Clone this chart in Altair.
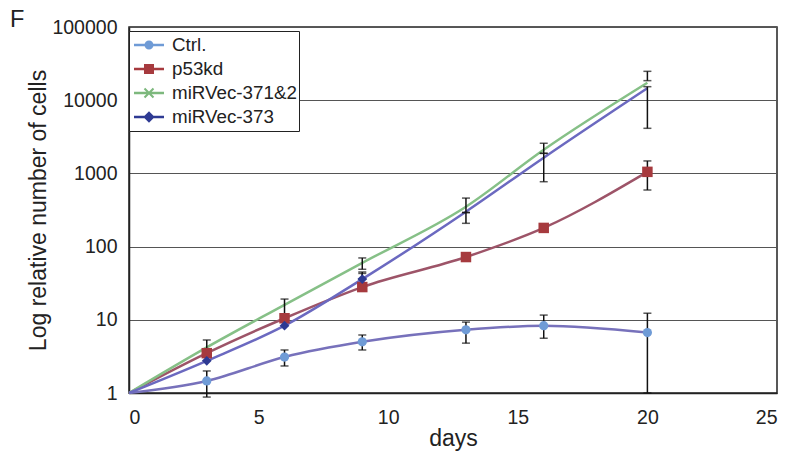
import altair as alt
import pandas as pd

# ---------------- data ----------------
panel_label = ["F"]
days = [0, 3, 6, 9, 13, 16, 20]
series_names = ["Ctrl.", "p53kd", "miRVec-371&2", "miRVec-373"]
ctrl = [1, 1.46, 3.1, 5.0, 7.3, 8.3, 6.7]
p53kd = [1, 3.5, 10.5, 28, 72, 180, 1050]
mir371 = [1, 4.2, 16, 60, 350, 2100, 17300]
mir373 = [1, 2.75, 8.3, 36, 300, 1640, 14600]

# days on which a marker is visible in the reference
ctrl_marker_days = [3, 6, 9, 13, 16, 20]
p53kd_marker_days = [3, 6, 9, 13, 16, 20]
mir371_marker_days = []
mir373_marker_days = [3, 6, 9]

# error bars
err_series = (["Ctrl."] * 6 + ["p53kd"] * 4 + ["miRVec-371&2"] * 4 + ["miRVec-373"] * 4)
err_day = [3, 6, 9, 13, 16, 20,
           3, 6, 9, 20,
           9, 13, 16, 20,
           9, 13, 16, 20]
err_lo = [0.88, 2.34, 3.87, 4.8, 5.6, 1.0,
          3.5, 10.5, 28, 593,
          49, 292, 1880, 18500,
          36, 208, 770, 4130]
err_hi = [2.0, 3.87, 6.2, 9.3, 11.6, 12.3,
          5.3, 19.2, 45, 1480,
          70, 460, 2580, 24800,
          43, 292, 1880, 15300]

x_ticks = [0, 5, 10, 15, 20, 25]
y_ticks = [1, 10, 100, 1000, 10000, 100000]

# ---------------- styles ----------------
line_colors = {"Ctrl.": "#7771bb", "p53kd": "#9d5468", "miRVec-371&2": "#86c087", "miRVec-373": "#6b69c0"}
marker_colors = {"Ctrl.": "#6f9bd6", "p53kd": "#a63a3e", "miRVec-371&2": "#7db87d", "miRVec-373": "#2e3a93"}
marker_shapes = {"Ctrl.": "circle", "p53kd": "square", "miRVec-371&2": "cross", "miRVec-373": "diamond"}
marker_sizes = {"Ctrl.": 85, "p53kd": 110, "miRVec-371&2": 60, "miRVec-373": 95}

# legend glyphs: a short line with the marker on it (unit = 18 px)
LINE = "M-0.833,-0.067H0.833V0.067H-0.833Z"
legend_paths = {
    "Ctrl.": LINE + "M-0.25,0A0.25,0.25 0 1,1 0.25,0A0.25,0.25 0 1,1 -0.25,0Z",
    "p53kd": LINE + "M-0.278,-0.278H0.278V0.278H-0.278Z",
    "miRVec-371&2": LINE + "M-0.21,-0.29L0.29,0.21L0.21,0.29L-0.29,-0.21Z"
                    + "M-0.29,0.21L0.21,-0.29L0.29,-0.21L-0.21,0.29Z",
    "miRVec-373": LINE + "M0,-0.317L0.317,0L0,0.317L-0.317,0Z",
}

FONT = "Liberation Sans"

values = {"Ctrl.": ctrl, "p53kd": p53kd, "miRVec-371&2": mir371, "miRVec-373": mir373}
marker_days = {"Ctrl.": ctrl_marker_days, "p53kd": p53kd_marker_days,
               "miRVec-371&2": mir371_marker_days, "miRVec-373": mir373_marker_days}

rows = []
for s in series_names:
    for d, v in zip(days, values[s]):
        rows.append({"series": s, "day": d, "value": v,
                     "lc": line_colors[s], "mc": marker_colors[s],
                     "shape": marker_shapes[s], "ms": marker_sizes[s],
                     "marker": d in marker_days[s]})
df = pd.DataFrame(rows)
pts = df[df["marker"]].copy()
err = pd.DataFrame({"series": err_series, "day": err_day, "lo": err_lo, "hi": err_hi})

x_enc = alt.X("day:Q", scale=alt.Scale(domain=[0, 25], nice=False),
              axis=alt.Axis(values=x_ticks, title="days", ticks=False, grid=False,
                            labelFontSize=19.5, labelFont=FONT, labelColor="#222",
                            labelPadding=15, titleFont=FONT, titleFontSize=23,
                            titleFontWeight="normal", titleColor="#222",
                            titleY=52, titleBaseline="alphabetic",
                            domainColor="#222", domainWidth=1.5, format="d"))
y_scale = alt.Scale(type="log", domain=[1, 100000], nice=False)
y_enc = alt.Y("value:Q", scale=y_scale,
              axis=alt.Axis(values=y_ticks, title="Log relative number of cells",
                            ticks=False, grid=True, gridColor="#555", gridWidth=1,
                            labelFontSize=19.5, labelFont=FONT, labelColor="#222",
                            labelPadding=12, format=".0f",
                            titleFont=FONT, titleFontSize=23, titleFontWeight="normal",
                            titleColor="#222", titleX=-91, titleY=183,
                            titleBaseline="middle", titleAlign="center", titleAngle=-90,
                            domainColor="#222", domainWidth=1.5))

lines = alt.Chart(df).mark_line(strokeWidth=2.5, interpolate="monotone").encode(
    x=x_enc, y=y_enc,
    color=alt.Color("lc:N", scale=None),
    detail="series:N",
    order="day:Q",
)

err_rules = alt.Chart(err).mark_rule(color="#111", strokeWidth=1.5).encode(
    x="day:Q",
    y=alt.Y("lo:Q", scale=y_scale),
    y2="hi:Q",
)
err_caps = alt.Chart(err).transform_fold(["lo", "hi"], as_=["end", "v"]).mark_tick(
    color="#111", thickness=1.5, size=8, orient="horizontal").encode(
    x="day:Q",
    y=alt.Y("v:Q", scale=y_scale),
)

points = alt.Chart(pts).mark_point(filled=True, opacity=1).encode(
    x="day:Q",
    y=alt.Y("value:Q", scale=y_scale),
    color=alt.Color("mc:N", scale=None),
    shape=alt.Shape("shape:N", scale=None),
    size=alt.Size("ms:Q", scale=None),
)

legend_layer = alt.Chart(df).transform_filter("false").mark_point(
    filled=True, opacity=1, size=1296).encode(
    x="day:Q",
    y=alt.Y("value:Q", scale=y_scale),
    color=alt.Color("series:N",
                    scale=alt.Scale(domain=series_names,
                                    range=[marker_colors[s] for s in series_names]),
                    legend=alt.Legend(title=None)),
    shape=alt.Shape("series:N",
                    scale=alt.Scale(domain=series_names,
                                    range=[legend_paths[s] for s in series_names]),
                    legend=alt.Legend(title=None)),
)

label = alt.Chart(pd.DataFrame({"t": panel_label})).mark_text(
    font=FONT, fontSize=23.5, color="#222", align="left", baseline="alphabetic"
).encode(text="t:N", x=alt.value(-119), y=alt.value(0))

chart = alt.layer(lines, err_rules, err_caps, points, legend_layer, label).properties(
    width=648, height=366,
    autosize="none",
    padding={"left": 121, "top": 19, "right": 10, "bottom": 60},
).configure_view(
    stroke="#222", strokeWidth=1.5
).configure_legend(
    orient="none", legendX=0, legendY=4,
    labelFont=FONT, labelFontSize=18.8, labelColor="#222", labelOffset=5,
    symbolSize=1296, symbolStrokeWidth=0, clipHeight=24,
    strokeColor="#222", fillColor="white", padding=2, rowPadding=0,
    cornerRadius=0,
)

chart.save("out.html", embed_options={"renderer": "svg", "actions": False})
